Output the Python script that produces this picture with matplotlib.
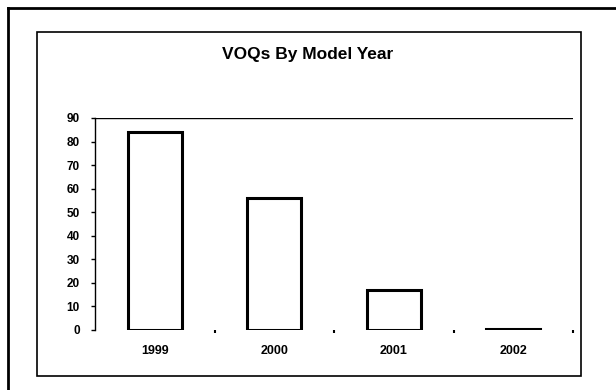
import matplotlib.pyplot as plt
from matplotlib.lines import Line2D
from matplotlib.patches import Rectangle

plt.rcParams['font.family'] = ['Liberation Sans', 'DejaVu Sans']

years = ['1999', '2000', '2001', '2002']
voqs = [84, 56, 17, 0.5]
y_ticks = [0, 10, 20, 30, 40, 50, 60, 70, 80, 90]

fig = plt.figure(figsize=(6.16, 3.9), dpi=100)

# scanned-page frames
W, H = 616.0, 390.0
fig.add_artist(Line2D([8 / W, 8 / W], [0, 1 - 8 / H], color='black', lw=2))
fig.add_artist(Line2D([8 / W, 1], [1 - 8 / H, 1 - 8 / H], color='black', lw=2))
fig.add_artist(Rectangle((37 / W, 1 - 376 / H), (581 - 37) / W, (376 - 32) / H,
                         fill=False, edgecolor='black', lw=1.2))

ax = fig.add_axes([95 / W, 60 / H, 478 / W, 212 / H])
x = range(len(years))
ax.bar(x, voqs, width=0.45, facecolor='white', edgecolor='black', linewidth=2.2)

ax.set_xlim(-0.5, 3.5)
ax.set_ylim(0, 90)
ax.axhline(90, color='black', lw=1)

ax.set_yticks(y_ticks)
ax.set_yticklabels([str(v) for v in y_ticks], fontsize=8.5, fontweight='bold')
ax.tick_params(axis='y', length=3, width=1, pad=8)

ax.set_xticks([0.5, 1.5, 2.5, 3.5])
ax.set_xticklabels([])
ax.tick_params(axis='x', which='major', length=2, width=1.5, direction='out')
ax.set_xticks(list(x), minor=True)
ax.set_xticklabels(years, minor=True, fontsize=9, fontweight='bold')
ax.tick_params(axis='x', which='minor', length=0, pad=11)

for s in ['top', 'right', 'bottom']:
    ax.spines[s].set_visible(False)
ax.spines['left'].set_linewidth(1)

fig.text(0.5, 1 - 55 / H, 'VOQs By Model Year', ha='center', va='center',
         fontsize=12.5, fontweight='bold')

fig.savefig('out.png', dpi=100, facecolor='white')
